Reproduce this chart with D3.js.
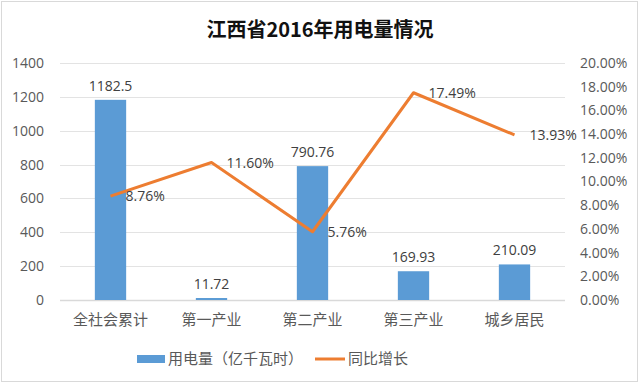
<!DOCTYPE html>
<html>
<meta charset="utf-8">
<head>
<style>
body { margin: 0; background: #fff; }
svg text { font-family: "Noto Sans CJK SC", "DejaVu Sans", sans-serif; }
</style>
<script src="https://d3js.org/d3.v7.min.js"></script>
</head>
<body>
<script>
// data
var categories = ['全社会累计', '第一产业', '第二产业', '第三产业', '城乡居民'];
var usage = [1182.5, 11.72, 790.76, 169.93, 210.09];
var growth = [8.76, 11.60, 5.76, 17.49, 13.93];
var usageLabels = ['1182.5', '11.72', '790.76', '169.93', '210.09'];
var leftTicks = [0, 200, 400, 600, 800, 1000, 1200, 1400];
var rightTicks = [0, 2, 4, 6, 8, 10, 12, 14, 16, 18, 20];

var W = 640, H = 384;
var margin = {top: 63, right: 75, bottom: 84, left: 60};
var width = W - margin.left - margin.right,
    height = H - margin.top - margin.bottom;

var svg = d3.select('body').append('svg')
    .attr('width', W).attr('height', H);

// chart frame
svg.append('rect')
    .attr('x', 1.5).attr('y', 1.5)
    .attr('width', W - 4).attr('height', H - 4)
    .attr('fill', '#fff').attr('stroke', '#d9d9d9');

svg.append('text')
    .attr('x', W / 2).attr('y', 37)
    .attr('text-anchor', 'middle')
    .attr('font-size', 20).attr('font-weight', 'bold')
    .attr('fill', '#111')
    .text('江西省2016年用电量情况');

var g = svg.append('g')
    .attr('transform', 'translate(' + margin.left + ',' + margin.top + ')');

var x = d3.scaleBand().domain(categories).range([0, width]).paddingInner(0.69).paddingOuter(0.345);
var y = d3.scaleLinear().domain([0, 1400]).range([height, 0]);
var y2 = d3.scaleLinear().domain([0, 20]).range([height, 0]);

// gridlines
g.selectAll('.grid').data(leftTicks).enter().append('line')
    .attr('x1', 0).attr('x2', width)
    .attr('y1', function(d) { return Math.round(y(d)) + 0.5; })
    .attr('y2', function(d) { return Math.round(y(d)) + 0.5; })
    .attr('stroke', function(d) { return d === 0 ? '#d9d9d9' : '#e3e3e3'; })
    .attr('stroke-width', function(d) { return d === 0 ? 1.5 : 1; });

var yAxis = d3.axisLeft(y).tickValues(leftTicks).tickSize(0).tickPadding(16)
    .tickFormat(d3.format('d'));
var yAxis2 = d3.axisRight(y2).tickValues(rightTicks).tickSize(0).tickPadding(15)
    .tickFormat(function(d) { return d.toFixed(2) + '%'; });
var xAxis = d3.axisBottom(x).tickSize(0).tickPadding(14);

function styleAxis(sel) {
    sel.select('.domain').remove();
    sel.selectAll('text')
        .attr('fill', '#595959')
        .attr('font-size', 14)
        .style('font-family', '"Open Sans", "DejaVu Sans", sans-serif');
}

g.append('g').call(yAxis).call(styleAxis);
g.append('g').attr('transform', 'translate(' + width + ',0)').call(yAxis2).call(styleAxis);
g.append('g').attr('transform', 'translate(0,' + height + ')').call(xAxis).call(styleAxis)
    .selectAll('text').attr('font-size', 15)
    .style('font-family', '"Noto Sans CJK SC", sans-serif');

// bars
g.selectAll('.bar').data(usage).enter().append('rect')
    .attr('x', function(d, i) { return x(categories[i]); })
    .attr('y', function(d) { return y(d); })
    .attr('width', x.bandwidth())
    .attr('height', function(d) { return height - y(d); })
    .attr('fill', '#5b9bd5');

g.selectAll('.barlabel').data(usage).enter().append('text')
    .attr('x', function(d, i) { return x(categories[i]) + x.bandwidth() / 2; })
    .attr('y', function(d) { return y(d) - 9; })
    .attr('text-anchor', 'middle')
    .attr('font-size', 14).attr('fill', '#404040')
    .style('font-family', '"Open Sans", "DejaVu Sans", sans-serif')
    .text(function(d, i) { return usageLabels[i]; });

// growth line
var line = d3.line()
    .x(function(d, i) { return x(categories[i]) + x.bandwidth() / 2; })
    .y(function(d) { return y2(d); });

g.append('path').datum(growth)
    .attr('d', line)
    .attr('fill', 'none')
    .attr('stroke', '#ed7d31')
    .attr('stroke-width', 3)
    .attr('stroke-linejoin', 'round');

g.selectAll('.linelabel').data(growth).enter().append('text')
    .attr('x', function(d, i) { return x(categories[i]) + x.bandwidth() / 2 + 15; })
    .attr('y', function(d) { return y2(d) + 5; })
    .attr('font-size', 14).attr('fill', '#404040')
    .style('font-family', '"Open Sans", "DejaVu Sans", sans-serif')
    .text(function(d) { return d.toFixed(2) + '%'; });

// legend
var leg = svg.append('g');
leg.append('rect').attr('x', 137).attr('y', 355).attr('width', 28).attr('height', 8).attr('fill', '#5b9bd5');
leg.append('text').attr('x', 168).attr('y', 364).attr('font-size', 15).attr('fill', '#595959').text('用电量（亿千瓦时）');
leg.append('line').attr('x1', 315).attr('x2', 345).attr('y1', 359).attr('y2', 359)
    .attr('stroke', '#ed7d31').attr('stroke-width', 3);
leg.append('text').attr('x', 348).attr('y', 364).attr('font-size', 15).attr('fill', '#595959').text('同比增长');
</script>
</body>
</html>
